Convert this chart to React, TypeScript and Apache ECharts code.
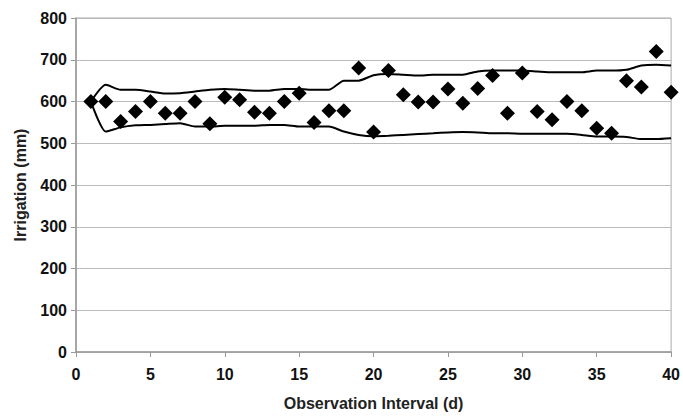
import React, { useEffect, useRef } from "react";
import * as echarts from "echarts";

const days = Array.from({ length: 40 }, (_, i) => i + 1);
const observed = [
  600, 600, 552, 576, 600, 572, 572, 600, 547, 610,
  604, 574, 572, 600, 620, 550, 578, 578, 680, 527,
  674, 616, 599, 599, 630, 596, 631, 662, 572, 668,
  576, 556, 600, 578, 536, 524, 650, 635, 720, 622,
];
const upper = [
  600, 640, 628, 628, 624, 619, 620, 624, 628, 630,
  628, 626, 626, 630, 630, 628, 628, 650, 650, 663,
  666, 664, 662, 664, 664, 664, 672, 674, 674, 674,
  672, 670, 670, 670, 674, 674, 676, 686, 688, 686,
];
const lower = [
  600, 528, 538, 543, 544, 546, 548, 540, 540, 542,
  542, 542, 544, 544, 540, 540, 540, 528, 520, 517,
  518, 520, 522, 524, 526, 527, 526, 524, 524, 523,
  523, 523, 523, 520, 516, 516, 515, 510, 510, 512,
];

const font = "'Liberation Sans', Arial, sans-serif";

export default function App() {
  const ref = useRef<HTMLDivElement>(null);
  useEffect(() => {
    document.body.style.margin = "0";
    if (!ref.current) return;
    const chart = echarts.init(ref.current, undefined, { renderer: "svg" });
    const pair = (arr: number[]) => arr.map((v, i) => [days[i], v]);
    const label = { fontFamily: font, fontWeight: "bold", fontSize: 16, color: "#111" };
    chart.setOption({
      animation: false,
      grid: {
        left: 76,
        right: 11,
        top: 18,
        bottom: 64,
        show: true,
        borderColor: "#aaa",
        borderWidth: 1,
      },
      xAxis: {
        type: "value",
        min: 0,
        max: 40,
        interval: 5,
        name: "Observation Interval (d)",
        nameLocation: "middle",
        nameGap: 43,
        nameTextStyle: { ...label, color: "#222" },
        axisLine: { show: true, lineStyle: { color: "#999", width: 1.5 } },
        axisTick: { show: true, length: 5, lineStyle: { color: "#999" } },
        axisLabel: { ...label, margin: 14 },
        splitLine: { show: false },
      },
      yAxis: {
        type: "value",
        min: 0,
        max: 800,
        interval: 100,
        name: "Irrigation (mm)",
        nameLocation: "middle",
        nameGap: 48,
        nameTextStyle: { ...label, color: "#222" },
        axisLine: { show: true, lineStyle: { color: "#999", width: 1.5 } },
        axisTick: { show: true, length: 5, lineStyle: { color: "#999" } },
        axisLabel: { ...label, margin: 9 },
        splitLine: { show: true, lineStyle: { color: "#bbb", width: 1 } },
      },
      series: [
        {
          type: "line",
          data: pair(upper),
          symbol: "none",
          smooth: 0.2,
          lineStyle: { color: "#000", width: 2 },
        },
        {
          type: "line",
          data: pair(lower),
          symbol: "none",
          smooth: 0.2,
          lineStyle: { color: "#000", width: 2 },
        },
        {
          type: "scatter",
          data: pair(observed),
          symbol: "diamond",
          symbolSize: 15,
          itemStyle: { color: "#000", opacity: 1 },
        },
      ],
    });
    return () => chart.dispose();
  }, []);
  return <div ref={ref} style={{ width: 683, height: 416 }} />;
}
